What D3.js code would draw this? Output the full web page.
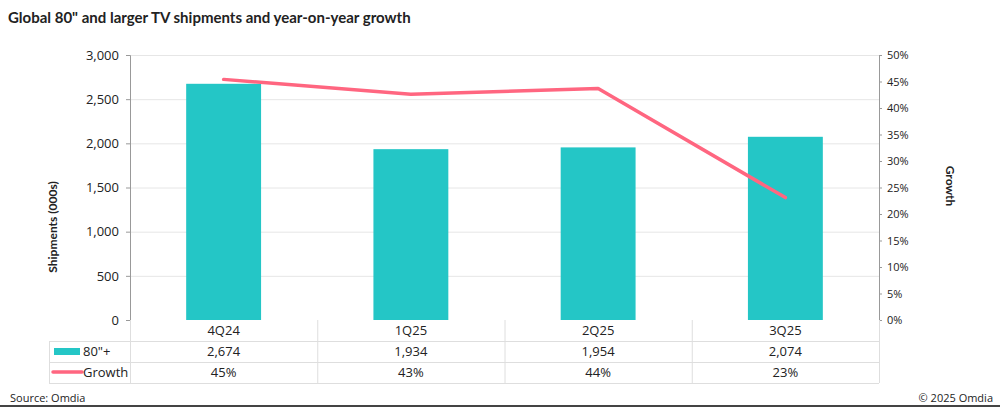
<!DOCTYPE html>
<html lang="en">
<head>
    <meta charset="utf-8">
    <script src="https://cdn.jsdelivr.net/npm/d3@7/dist/d3.min.js"></script>
    <style>
        body { margin: 0; background: #fff; }
        svg text { font-family: "Open Sans", "Noto Sans", sans-serif; fill: #222; }
        .title { font-family: Lato, sans-serif !important; font-weight: 700; font-size: 15px; }
        .axis-title { font-family: Lato, sans-serif !important; font-weight: 700; font-size: 12px; }
        .grid line { stroke: #e6e6e6; }
        .tbl line { stroke: #dedede; }
    </style>
</head>
<body>
<div id="chart"></div>
<script type="text/javascript">
    var quarters = ["4Q24", "1Q25", "2Q25", "3Q25"];
    var shipments = [2674, 1934, 1954, 2074];
    var growth = [45.4, 42.6, 43.7, 23.1];
    var shipmentLabels = ["2,674", "1,934", "1,954", "2,074"];
    var growthLabels = ["45%", "43%", "44%", "23%"];
    var leftTicks = [0, 500, 1000, 1500, 2000, 2500, 3000];
    var rightTicks = [0, 5, 10, 15, 20, 25, 30, 35, 40, 45, 50];

    var barColor = "#24c6c6";
    var lineColor = "#ff6680";

    var width = 1000, height = 407;
    var plot = {left: 130, right: 879, top: 55, bottom: 320};
    var rows = {head: 341, r1: 362, r2: 383, legendLeft: 49};

    var svg = d3.select("#chart").append("svg")
        .attr("width", width)
        .attr("height", height);

    svg.append("text").attr("class", "title")
        .attr("x", 8).attr("y", 23)
        .text("Global 80\" and larger TV shipments and year-on-year growth");

    var x = d3.scaleBand().domain(quarters).range([plot.left, plot.right]).paddingInner(0).paddingOuter(0);
    var y = d3.scaleLinear().domain([0, 3000]).range([plot.bottom, plot.top]);
    var y2 = d3.scaleLinear().domain([0, 50]).range([plot.bottom, plot.top]);

    // gridlines
    svg.append("g").attr("class", "grid")
        .selectAll("line")
        .data(leftTicks.slice(1))
        .enter().append("line")
        .attr("x1", plot.left).attr("x2", plot.right)
        .attr("y1", function (d) { return y(d) + 0.5; })
        .attr("y2", function (d) { return y(d) + 0.5; });

    // bars
    var barW = x.bandwidth() * 0.4;
    svg.append("g")
        .selectAll("rect")
        .data(shipments)
        .enter().append("rect")
        .attr("x", function (d, i) { return x(quarters[i]) + (x.bandwidth() - barW) / 2; })
        .attr("y", function (d) { return y(d); })
        .attr("width", barW)
        .attr("height", function (d) { return y(0) - y(d); })
        .attr("fill", barColor);

    // growth line
    var line = d3.line()
        .x(function (d, i) { return x(quarters[i]) + x.bandwidth() / 2; })
        .y(function (d) { return y2(d); });
    svg.append("path")
        .datum(growth)
        .attr("d", line)
        .attr("fill", "none")
        .attr("stroke", lineColor)
        .attr("stroke-width", 3.5)
        .attr("stroke-linecap", "round")
        .attr("stroke-linejoin", "round");

    // left axis
    var gLeft = svg.append("g")
        .attr("transform", "translate(" + plot.left + ",0)")
        .call(d3.axisLeft(y).tickValues(leftTicks).tickSize(4).tickPadding(7).tickFormat(d3.format(",")));
    gLeft.selectAll("text").style("font-size", "13px").attr("fill", "#222");
    gLeft.selectAll("line, path").attr("stroke", "#999");

    // right axis
    var gRight = svg.append("g")
        .attr("transform", "translate(" + plot.right + ",0)")
        .call(d3.axisRight(y2).tickValues(rightTicks).tickSize(3).tickPadding(5).tickFormat(function (d) { return d + "%"; }));
    gRight.selectAll("text").style("font-size", "11px").attr("fill", "#333");
    gRight.selectAll("line, path").attr("stroke", "#999");

    svg.append("text").attr("class", "axis-title")
        .attr("transform", "translate(57,227) rotate(-90)")
        .attr("text-anchor", "middle")
        .text("Shipments (000s)");

    svg.append("text").attr("class", "axis-title")
        .attr("transform", "translate(946,186) rotate(90)")
        .attr("text-anchor", "middle")
        .text("Growth");

    // data table
    var tbl = svg.append("g").attr("class", "tbl");
    var bounds = quarters.map(function (q) { return x(q); }).concat([plot.right]);
    tbl.selectAll("line.v")
        .data(bounds)
        .enter().append("line")
        .attr("x1", function (d) { return d + 0.5; }).attr("x2", function (d) { return d + 0.5; })
        .attr("y1", plot.bottom).attr("y2", rows.r2);
    tbl.append("line").attr("x1", rows.legendLeft + 0.5).attr("x2", rows.legendLeft + 0.5)
        .attr("y1", rows.head).attr("y2", rows.r2);
    [rows.head, rows.r1, rows.r2].forEach(function (ry) {
        tbl.append("line").attr("x1", rows.legendLeft).attr("x2", plot.right)
            .attr("y1", ry + 0.5).attr("y2", ry + 0.5);
    });

    var cellText = function (labels, yy) {
        svg.append("g").selectAll("text")
            .data(labels)
            .enter().append("text")
            .attr("x", function (d, i) { return x(quarters[i]) + x.bandwidth() / 2; })
            .attr("y", yy)
            .attr("text-anchor", "middle")
            .style("font-size", "13px")
            .text(function (d) { return d; });
    };
    cellText(quarters, 335);
    cellText(shipmentLabels, 356);
    cellText(growthLabels, 377);

    // legend keys
    svg.append("rect").attr("x", 54).attr("y", 348).attr("width", 26).attr("height", 7).attr("fill", barColor);
    svg.append("text").attr("x", 83).attr("y", 356).style("font-size", "13px").text("80\"+");
    svg.append("line").attr("x1", 53).attr("x2", 82).attr("y1", 372).attr("y2", 372)
        .attr("stroke", lineColor).attr("stroke-width", 3.5).attr("stroke-linecap", "round");
    svg.append("text").attr("x", 83).attr("y", 377).style("font-size", "13px").text("Growth");

    // footer
    svg.append("text").attr("x", 10).attr("y", 402).style("font-size", "11px").text("Source: Omdia");
    svg.append("text").attr("x", 993).attr("y", 402).attr("text-anchor", "end").style("font-size", "11px").text("\u00a9 2025 Omdia");
    svg.append("rect").attr("x", 0).attr("y", 405).attr("width", width).attr("height", 2).attr("fill", "#444");
</script>
</body>
</html>
